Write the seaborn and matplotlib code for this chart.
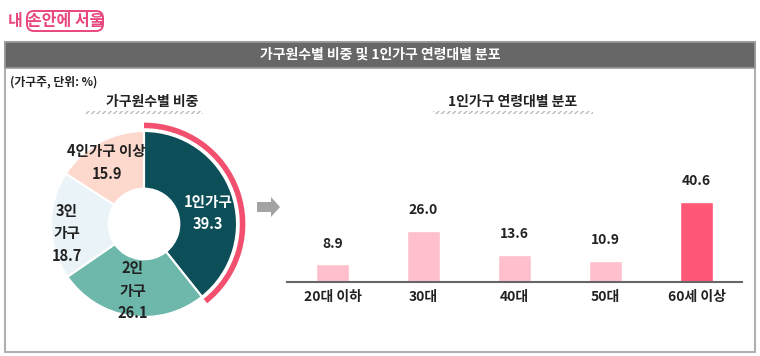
import matplotlib
matplotlib.use("Agg")
import matplotlib.pyplot as plt
import seaborn as sns
import pandas as pd
import numpy as np
from matplotlib.patches import Rectangle, FancyBboxPatch, Arc, FancyArrow

# ---- data ----
hh_labels = ["1인가구", "2인\n가구", "3인\n가구", "4인가구 이상"]
hh_values = [39.3, 26.1, 18.7, 15.9]
hh_colors = ["#0c4f59", "#6db8ab", "#eaf4f8", "#fdd9cd"]

age_labels = ["20대 이하", "30대", "40대", "50대", "60세 이상"]
age_values = [8.9, 26.0, 13.6, 10.9, 40.6]
age_colors = ["#ffbfcc", "#ffbfcc", "#ffbfcc", "#ffbfcc", "#ff5876"]

main_title = "가구원수별 비중 및 1인가구 연령대별 분포"
unit_note = "(가구주, 단위: %)"
left_title = "가구원수별 비중"
right_title = "1인가구 연령대별 분포"

sns.set_theme(style="white")
plt.rcParams['font.family'] = ['Noto Sans CJK KR', 'DejaVu Sans']

W, H = 760, 356
fig = plt.figure(figsize=(W / 100, H / 100), dpi=100)

def fx(px):
    return px / W

def fy(py):
    return 1 - py / H

# overlay axes for decorations in pixel coords
deco = fig.add_axes([0, 0, 1, 1])
deco.set_xlim(0, W)
deco.set_ylim(H, 0)
deco.axis("off")

# logo
pink = "#e8467c"
deco.text(8, 21, "내", color=pink, fontsize=11.5, fontweight="bold", va="center", ha="left")
deco.add_patch(FancyBboxPatch((27, 11), 76, 20, boxstyle="round,pad=0,rounding_size=7",
                              fill=False, edgecolor=pink, linewidth=1.4))
deco.text(66, 21, "손안에 서울", color=pink, fontsize=11.5, fontweight="bold", va="center", ha="center")

# outer box
deco.add_patch(Rectangle((5, 42), 750, 310, fill=False, edgecolor="#b0b0b0", linewidth=1.5))
# header bar
deco.add_patch(Rectangle((5, 42), 750, 26, facecolor="#676767", edgecolor="#9a9a9a", linewidth=1.2))
deco.text(380, 55, main_title, color="white", fontsize=10, fontweight="bold", ha="center", va="center")

deco.text(10, 82, unit_note, color="#222222", fontsize=8.5, fontweight="bold", ha="left", va="center")

# subtitles with hatched underline
deco.text(152, 102, left_title, color="#222222", fontsize=10, fontweight="bold", ha="center", va="center")
deco.add_patch(Rectangle((85, 111), 118, 3, facecolor="white", edgecolor="#bbbbbb", hatch="//////", linewidth=0))
deco.text(513, 102, right_title, color="#222222", fontsize=10, fontweight="bold", ha="center", va="center")
deco.add_patch(Rectangle((433, 111), 160, 3, facecolor="white", edgecolor="#bbbbbb", hatch="//////", linewidth=0))

# arrow
deco.add_patch(FancyArrow(257, 207, 14, 0, width=10, head_width=20, head_length=9,
                          length_includes_head=False, color="#a3a3a3", linewidth=0))

# ---- donut ----
cx, cy, r = 144, 224, 93
lim = 1.15
size = r * lim * 2
pax = fig.add_axes([fx(cx - size / 2), fy(cy + size / 2), size / W, size / H])
wedges, _ = pax.pie(hh_values, colors=hh_colors, startangle=90, counterclock=False,
                    radius=1.0, wedgeprops=dict(width=0.62, edgecolor="white", linewidth=1.5))
pax.set_xlim(-lim, lim)
pax.set_ylim(-lim, lim)
pax.set_aspect("equal")
pax.axis("off")

# highlight arc around the 1인가구 slice
end_angle = 90 - hh_values[0] / sum(hh_values) * 360
pax.add_patch(Arc((0, 0), 2 * 1.06, 2 * 1.06, theta1=end_angle, theta2=90,
                  color="#f2506e", linewidth=4))

label_pos = [(0.69, 0.12), (-0.12, -0.72), (-0.83, -0.10), (-0.40, 0.66)]
label_colors = ["white", "#222222", "#222222", "#222222"]
for lab, val, (x, y), c in zip(hh_labels, hh_values, label_pos, label_colors):
    pax.text(x, y, f"{lab}\n{val:.1f}", ha="center", va="center", color=c,
             fontsize=10.5, fontweight="bold", linespacing=1.5)

# ---- bars ----
bx0, bx1 = 287, 742
base_y = 282
top_px = 140  # pixel y of axes top
bax = fig.add_axes([fx(bx0), fy(base_y), (bx1 - bx0) / W, (base_y - top_px) / H])
df = pd.DataFrame({"age": age_labels, "value": age_values})
sns.barplot(data=df, x="age", y="value", hue="age", palette=age_colors, legend=False,
            width=0.37, ax=bax, saturation=1)
bax.set_xlim(-0.5, len(age_labels) - 0.5)
bax.set_ylim(0, (base_y - top_px) / 80 * 40.6)
for i, v in enumerate(age_values):
    bax.annotate(f"{v:.1f}", (i, v), xytext=(0, 10), textcoords="offset points",
                 ha="center", va="bottom", fontsize=10, fontweight="bold", color="#222222")
bax.set_xlabel("")
bax.set_ylabel("")
bax.set_yticks([])
bax.tick_params(axis="x", length=0, labelsize=10, pad=6, colors="#222222")
for t in bax.get_xticklabels():
    t.set_fontweight("bold")
for s in ["top", "left", "right"]:
    bax.spines[s].set_visible(False)
bax.spines["bottom"].set_color("#666666")
bax.spines["bottom"].set_linewidth(1.5)
bax.patch.set_alpha(0)

fig.savefig("out.png", dpi=100)
